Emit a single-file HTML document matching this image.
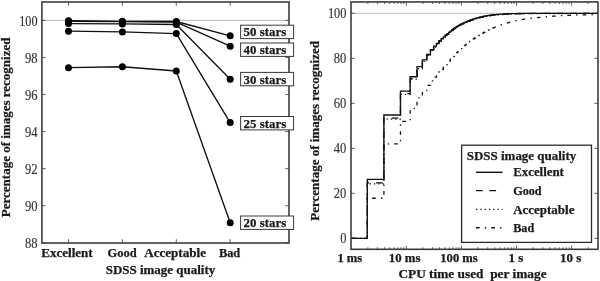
<!DOCTYPE html>
<html><head><meta charset="utf-8"><title>chart</title>
<style>
html,body{margin:0;padding:0;background:#fff;}
body{width:600px;height:281px;overflow:hidden;}
svg{display:block;will-change:transform;}
text{font-family:"Liberation Serif",serif;}
.b{font-weight:bold;font-size:12.9px;fill:#1a1a1a;stroke:#1a1a1a;stroke-width:0.25px;}
.tk{font-size:13.6px;fill:#333;stroke:#333;stroke-width:0.15px;}
</style></head>
<body>
<svg width="600" height="281" viewBox="0 0 600 281">
<rect x="0" y="0" width="600" height="281" fill="#fff"/>
<line x1="41.9" y1="20.40" x2="289.0" y2="20.40" stroke="#a2a2a2" stroke-width="0.75"/>
<line x1="41.9" y1="242.82" x2="45.699999999999996" y2="242.82" stroke="#3c3c3c" stroke-width="0.8"/>
<line x1="289.0" y1="242.82" x2="285.2" y2="242.82" stroke="#3c3c3c" stroke-width="0.8"/>
<text x="24.90" y="247.92" class="tk" textLength="12.6" lengthAdjust="spacingAndGlyphs">88</text>
<line x1="41.9" y1="205.75" x2="45.699999999999996" y2="205.75" stroke="#3c3c3c" stroke-width="0.8"/>
<line x1="289.0" y1="205.75" x2="285.2" y2="205.75" stroke="#3c3c3c" stroke-width="0.8"/>
<text x="24.90" y="210.85" class="tk" textLength="12.6" lengthAdjust="spacingAndGlyphs">90</text>
<line x1="41.9" y1="168.68" x2="45.699999999999996" y2="168.68" stroke="#3c3c3c" stroke-width="0.8"/>
<line x1="289.0" y1="168.68" x2="285.2" y2="168.68" stroke="#3c3c3c" stroke-width="0.8"/>
<text x="24.90" y="173.78" class="tk" textLength="12.6" lengthAdjust="spacingAndGlyphs">92</text>
<line x1="41.9" y1="131.61" x2="45.699999999999996" y2="131.61" stroke="#3c3c3c" stroke-width="0.8"/>
<line x1="289.0" y1="131.61" x2="285.2" y2="131.61" stroke="#3c3c3c" stroke-width="0.8"/>
<text x="24.90" y="136.71" class="tk" textLength="12.6" lengthAdjust="spacingAndGlyphs">94</text>
<line x1="41.9" y1="94.54" x2="45.699999999999996" y2="94.54" stroke="#3c3c3c" stroke-width="0.8"/>
<line x1="289.0" y1="94.54" x2="285.2" y2="94.54" stroke="#3c3c3c" stroke-width="0.8"/>
<text x="24.90" y="99.64" class="tk" textLength="12.6" lengthAdjust="spacingAndGlyphs">96</text>
<line x1="41.9" y1="57.47" x2="45.699999999999996" y2="57.47" stroke="#3c3c3c" stroke-width="0.8"/>
<line x1="289.0" y1="57.47" x2="285.2" y2="57.47" stroke="#3c3c3c" stroke-width="0.8"/>
<text x="24.90" y="62.57" class="tk" textLength="12.6" lengthAdjust="spacingAndGlyphs">98</text>
<line x1="41.9" y1="20.40" x2="45.699999999999996" y2="20.40" stroke="#3c3c3c" stroke-width="0.8"/>
<line x1="289.0" y1="20.40" x2="285.2" y2="20.40" stroke="#3c3c3c" stroke-width="0.8"/>
<text x="19.20" y="25.50" class="tk" textLength="18.3" lengthAdjust="spacingAndGlyphs">100</text>
<line x1="68.5" y1="243.0" x2="68.5" y2="239.2" stroke="#3c3c3c" stroke-width="0.8"/>
<line x1="68.5" y1="2.0" x2="68.5" y2="5.8" stroke="#3c3c3c" stroke-width="0.8"/>
<line x1="122.4" y1="243.0" x2="122.4" y2="239.2" stroke="#3c3c3c" stroke-width="0.8"/>
<line x1="122.4" y1="2.0" x2="122.4" y2="5.8" stroke="#3c3c3c" stroke-width="0.8"/>
<line x1="176.3" y1="243.0" x2="176.3" y2="239.2" stroke="#3c3c3c" stroke-width="0.8"/>
<line x1="176.3" y1="2.0" x2="176.3" y2="5.8" stroke="#3c3c3c" stroke-width="0.8"/>
<line x1="230.2" y1="243.0" x2="230.2" y2="239.2" stroke="#3c3c3c" stroke-width="0.8"/>
<line x1="230.2" y1="2.0" x2="230.2" y2="5.8" stroke="#3c3c3c" stroke-width="0.8"/>
<polyline points="68.50,20.68 122.40,21.33 176.30,21.51 230.20,35.78" fill="none" stroke="#111" stroke-width="1.35" stroke-linejoin="round"/>
<circle cx="68.50" cy="20.68" r="3.5" fill="#000"/>
<circle cx="122.40" cy="21.33" r="3.5" fill="#000"/>
<circle cx="176.30" cy="21.51" r="3.5" fill="#000"/>
<circle cx="230.20" cy="35.78" r="3.5" fill="#000"/>
<polyline points="68.50,21.33 122.40,21.70 176.30,22.07 230.20,46.16" fill="none" stroke="#111" stroke-width="1.35" stroke-linejoin="round"/>
<circle cx="68.50" cy="21.33" r="3.5" fill="#000"/>
<circle cx="122.40" cy="21.70" r="3.5" fill="#000"/>
<circle cx="176.30" cy="22.07" r="3.5" fill="#000"/>
<circle cx="230.20" cy="46.16" r="3.5" fill="#000"/>
<polyline points="68.50,23.55 122.40,23.92 176.30,24.48 230.20,79.34" fill="none" stroke="#111" stroke-width="1.35" stroke-linejoin="round"/>
<circle cx="68.50" cy="23.55" r="3.5" fill="#000"/>
<circle cx="122.40" cy="23.92" r="3.5" fill="#000"/>
<circle cx="176.30" cy="24.48" r="3.5" fill="#000"/>
<circle cx="230.20" cy="79.34" r="3.5" fill="#000"/>
<polyline points="68.50,31.15 122.40,31.89 176.30,33.56 230.20,122.53" fill="none" stroke="#111" stroke-width="1.35" stroke-linejoin="round"/>
<circle cx="68.50" cy="31.15" r="3.5" fill="#000"/>
<circle cx="122.40" cy="31.89" r="3.5" fill="#000"/>
<circle cx="176.30" cy="33.56" r="3.5" fill="#000"/>
<circle cx="230.20" cy="122.53" r="3.5" fill="#000"/>
<polyline points="68.50,67.66 122.40,66.74 176.30,71.00 230.20,222.80" fill="none" stroke="#111" stroke-width="1.35" stroke-linejoin="round"/>
<circle cx="68.50" cy="67.66" r="3.5" fill="#000"/>
<circle cx="122.40" cy="66.74" r="3.5" fill="#000"/>
<circle cx="176.30" cy="71.00" r="3.5" fill="#000"/>
<circle cx="230.20" cy="222.80" r="3.5" fill="#000"/>
<rect x="41.9" y="2.0" width="247.1" height="241.0" fill="none" stroke="#3c3c3c" stroke-width="1.6"/>
<rect x="240.6" y="25.20" width="53" height="13.4" fill="#fff" stroke="#3a3a3a" stroke-width="1"/>
<text x="243.6" y="36.30" class="b" textLength="42.6" lengthAdjust="spacingAndGlyphs">50 stars</text>
<rect x="240.6" y="43.00" width="53" height="13.4" fill="#fff" stroke="#3a3a3a" stroke-width="1"/>
<text x="243.6" y="54.10" class="b" textLength="42.6" lengthAdjust="spacingAndGlyphs">40 stars</text>
<rect x="240.6" y="72.40" width="53" height="13.4" fill="#fff" stroke="#3a3a3a" stroke-width="1"/>
<text x="243.6" y="83.50" class="b" textLength="42.6" lengthAdjust="spacingAndGlyphs">30 stars</text>
<rect x="240.6" y="116.50" width="53" height="13.4" fill="#fff" stroke="#3a3a3a" stroke-width="1"/>
<text x="243.6" y="127.60" class="b" textLength="42.6" lengthAdjust="spacingAndGlyphs">25 stars</text>
<rect x="240.6" y="216.00" width="53" height="13.4" fill="#fff" stroke="#3a3a3a" stroke-width="1"/>
<text x="243.6" y="227.10" class="b" textLength="42.6" lengthAdjust="spacingAndGlyphs">20 stars</text>
<text x="41.3" y="256.5" class="b" textLength="51.4" lengthAdjust="spacingAndGlyphs">Excellent</text>
<text x="107.5" y="256.5" class="b" textLength="29.1" lengthAdjust="spacingAndGlyphs">Good</text>
<text x="144.2" y="256.5" class="b" textLength="61.8" lengthAdjust="spacingAndGlyphs">Acceptable</text>
<text x="218.9" y="256.5" class="b" textLength="21.3" lengthAdjust="spacingAndGlyphs">Bad</text>
<text x="105.7" y="273.5" class="b" textLength="109.6" lengthAdjust="spacingAndGlyphs">SDSS image quality</text>
<text transform="translate(10.4,217.2) rotate(-90)" class="b" textLength="179.6" lengthAdjust="spacingAndGlyphs">Percentage of images recognized</text>
<line x1="351.0" y1="13.30" x2="598.0" y2="13.30" stroke="#a2a2a2" stroke-width="0.75"/>
<line x1="351.0" y1="238.30" x2="354.8" y2="238.30" stroke="#3c3c3c" stroke-width="0.8"/>
<line x1="598.0" y1="238.30" x2="594.2" y2="238.30" stroke="#3c3c3c" stroke-width="0.8"/>
<text x="340.20" y="243.40" class="tk" textLength="6.2" lengthAdjust="spacingAndGlyphs">0</text>
<line x1="351.0" y1="193.30" x2="354.8" y2="193.30" stroke="#3c3c3c" stroke-width="0.8"/>
<line x1="598.0" y1="193.30" x2="594.2" y2="193.30" stroke="#3c3c3c" stroke-width="0.8"/>
<text x="333.80" y="198.40" class="tk" textLength="12.6" lengthAdjust="spacingAndGlyphs">20</text>
<line x1="351.0" y1="148.30" x2="354.8" y2="148.30" stroke="#3c3c3c" stroke-width="0.8"/>
<line x1="598.0" y1="148.30" x2="594.2" y2="148.30" stroke="#3c3c3c" stroke-width="0.8"/>
<text x="333.80" y="153.40" class="tk" textLength="12.6" lengthAdjust="spacingAndGlyphs">40</text>
<line x1="351.0" y1="103.30" x2="354.8" y2="103.30" stroke="#3c3c3c" stroke-width="0.8"/>
<line x1="598.0" y1="103.30" x2="594.2" y2="103.30" stroke="#3c3c3c" stroke-width="0.8"/>
<text x="333.80" y="108.40" class="tk" textLength="12.6" lengthAdjust="spacingAndGlyphs">60</text>
<line x1="351.0" y1="58.30" x2="354.8" y2="58.30" stroke="#3c3c3c" stroke-width="0.8"/>
<line x1="598.0" y1="58.30" x2="594.2" y2="58.30" stroke="#3c3c3c" stroke-width="0.8"/>
<text x="333.80" y="63.40" class="tk" textLength="12.6" lengthAdjust="spacingAndGlyphs">80</text>
<line x1="351.0" y1="13.30" x2="354.8" y2="13.30" stroke="#3c3c3c" stroke-width="0.8"/>
<line x1="598.0" y1="13.30" x2="594.2" y2="13.30" stroke="#3c3c3c" stroke-width="0.8"/>
<text x="327.90" y="18.40" class="tk" textLength="18.5" lengthAdjust="spacingAndGlyphs">100</text>
<line x1="367.88" y1="249.3" x2="367.88" y2="247.20000000000002" stroke="#3c3c3c" stroke-width="0.8"/>
<line x1="367.88" y1="1.95" x2="367.88" y2="4.05" stroke="#3c3c3c" stroke-width="0.8"/>
<line x1="377.58" y1="249.3" x2="377.58" y2="247.20000000000002" stroke="#3c3c3c" stroke-width="0.8"/>
<line x1="377.58" y1="1.95" x2="377.58" y2="4.05" stroke="#3c3c3c" stroke-width="0.8"/>
<line x1="384.46" y1="249.3" x2="384.46" y2="247.20000000000002" stroke="#3c3c3c" stroke-width="0.8"/>
<line x1="384.46" y1="1.95" x2="384.46" y2="4.05" stroke="#3c3c3c" stroke-width="0.8"/>
<line x1="389.79" y1="249.3" x2="389.79" y2="247.20000000000002" stroke="#3c3c3c" stroke-width="0.8"/>
<line x1="389.79" y1="1.95" x2="389.79" y2="4.05" stroke="#3c3c3c" stroke-width="0.8"/>
<line x1="394.15" y1="249.3" x2="394.15" y2="247.20000000000002" stroke="#3c3c3c" stroke-width="0.8"/>
<line x1="394.15" y1="1.95" x2="394.15" y2="4.05" stroke="#3c3c3c" stroke-width="0.8"/>
<line x1="397.84" y1="249.3" x2="397.84" y2="247.20000000000002" stroke="#3c3c3c" stroke-width="0.8"/>
<line x1="397.84" y1="1.95" x2="397.84" y2="4.05" stroke="#3c3c3c" stroke-width="0.8"/>
<line x1="401.03" y1="249.3" x2="401.03" y2="247.20000000000002" stroke="#3c3c3c" stroke-width="0.8"/>
<line x1="401.03" y1="1.95" x2="401.03" y2="4.05" stroke="#3c3c3c" stroke-width="0.8"/>
<line x1="403.85" y1="249.3" x2="403.85" y2="247.20000000000002" stroke="#3c3c3c" stroke-width="0.8"/>
<line x1="403.85" y1="1.95" x2="403.85" y2="4.05" stroke="#3c3c3c" stroke-width="0.8"/>
<line x1="406.37" y1="249.3" x2="406.37" y2="245.5" stroke="#3c3c3c" stroke-width="0.8"/>
<line x1="406.37" y1="1.95" x2="406.37" y2="5.75" stroke="#3c3c3c" stroke-width="0.8"/>
<line x1="422.95" y1="249.3" x2="422.95" y2="247.20000000000002" stroke="#3c3c3c" stroke-width="0.8"/>
<line x1="422.95" y1="1.95" x2="422.95" y2="4.05" stroke="#3c3c3c" stroke-width="0.8"/>
<line x1="432.65" y1="249.3" x2="432.65" y2="247.20000000000002" stroke="#3c3c3c" stroke-width="0.8"/>
<line x1="432.65" y1="1.95" x2="432.65" y2="4.05" stroke="#3c3c3c" stroke-width="0.8"/>
<line x1="439.53" y1="249.3" x2="439.53" y2="247.20000000000002" stroke="#3c3c3c" stroke-width="0.8"/>
<line x1="439.53" y1="1.95" x2="439.53" y2="4.05" stroke="#3c3c3c" stroke-width="0.8"/>
<line x1="444.86" y1="249.3" x2="444.86" y2="247.20000000000002" stroke="#3c3c3c" stroke-width="0.8"/>
<line x1="444.86" y1="1.95" x2="444.86" y2="4.05" stroke="#3c3c3c" stroke-width="0.8"/>
<line x1="449.22" y1="249.3" x2="449.22" y2="247.20000000000002" stroke="#3c3c3c" stroke-width="0.8"/>
<line x1="449.22" y1="1.95" x2="449.22" y2="4.05" stroke="#3c3c3c" stroke-width="0.8"/>
<line x1="452.91" y1="249.3" x2="452.91" y2="247.20000000000002" stroke="#3c3c3c" stroke-width="0.8"/>
<line x1="452.91" y1="1.95" x2="452.91" y2="4.05" stroke="#3c3c3c" stroke-width="0.8"/>
<line x1="456.10" y1="249.3" x2="456.10" y2="247.20000000000002" stroke="#3c3c3c" stroke-width="0.8"/>
<line x1="456.10" y1="1.95" x2="456.10" y2="4.05" stroke="#3c3c3c" stroke-width="0.8"/>
<line x1="458.92" y1="249.3" x2="458.92" y2="247.20000000000002" stroke="#3c3c3c" stroke-width="0.8"/>
<line x1="458.92" y1="1.95" x2="458.92" y2="4.05" stroke="#3c3c3c" stroke-width="0.8"/>
<line x1="461.44" y1="249.3" x2="461.44" y2="245.5" stroke="#3c3c3c" stroke-width="0.8"/>
<line x1="461.44" y1="1.95" x2="461.44" y2="5.75" stroke="#3c3c3c" stroke-width="0.8"/>
<line x1="478.02" y1="249.3" x2="478.02" y2="247.20000000000002" stroke="#3c3c3c" stroke-width="0.8"/>
<line x1="478.02" y1="1.95" x2="478.02" y2="4.05" stroke="#3c3c3c" stroke-width="0.8"/>
<line x1="487.72" y1="249.3" x2="487.72" y2="247.20000000000002" stroke="#3c3c3c" stroke-width="0.8"/>
<line x1="487.72" y1="1.95" x2="487.72" y2="4.05" stroke="#3c3c3c" stroke-width="0.8"/>
<line x1="494.60" y1="249.3" x2="494.60" y2="247.20000000000002" stroke="#3c3c3c" stroke-width="0.8"/>
<line x1="494.60" y1="1.95" x2="494.60" y2="4.05" stroke="#3c3c3c" stroke-width="0.8"/>
<line x1="499.93" y1="249.3" x2="499.93" y2="247.20000000000002" stroke="#3c3c3c" stroke-width="0.8"/>
<line x1="499.93" y1="1.95" x2="499.93" y2="4.05" stroke="#3c3c3c" stroke-width="0.8"/>
<line x1="504.29" y1="249.3" x2="504.29" y2="247.20000000000002" stroke="#3c3c3c" stroke-width="0.8"/>
<line x1="504.29" y1="1.95" x2="504.29" y2="4.05" stroke="#3c3c3c" stroke-width="0.8"/>
<line x1="507.98" y1="249.3" x2="507.98" y2="247.20000000000002" stroke="#3c3c3c" stroke-width="0.8"/>
<line x1="507.98" y1="1.95" x2="507.98" y2="4.05" stroke="#3c3c3c" stroke-width="0.8"/>
<line x1="511.17" y1="249.3" x2="511.17" y2="247.20000000000002" stroke="#3c3c3c" stroke-width="0.8"/>
<line x1="511.17" y1="1.95" x2="511.17" y2="4.05" stroke="#3c3c3c" stroke-width="0.8"/>
<line x1="513.99" y1="249.3" x2="513.99" y2="247.20000000000002" stroke="#3c3c3c" stroke-width="0.8"/>
<line x1="513.99" y1="1.95" x2="513.99" y2="4.05" stroke="#3c3c3c" stroke-width="0.8"/>
<line x1="516.51" y1="249.3" x2="516.51" y2="245.5" stroke="#3c3c3c" stroke-width="0.8"/>
<line x1="516.51" y1="1.95" x2="516.51" y2="5.75" stroke="#3c3c3c" stroke-width="0.8"/>
<line x1="533.09" y1="249.3" x2="533.09" y2="247.20000000000002" stroke="#3c3c3c" stroke-width="0.8"/>
<line x1="533.09" y1="1.95" x2="533.09" y2="4.05" stroke="#3c3c3c" stroke-width="0.8"/>
<line x1="542.79" y1="249.3" x2="542.79" y2="247.20000000000002" stroke="#3c3c3c" stroke-width="0.8"/>
<line x1="542.79" y1="1.95" x2="542.79" y2="4.05" stroke="#3c3c3c" stroke-width="0.8"/>
<line x1="549.67" y1="249.3" x2="549.67" y2="247.20000000000002" stroke="#3c3c3c" stroke-width="0.8"/>
<line x1="549.67" y1="1.95" x2="549.67" y2="4.05" stroke="#3c3c3c" stroke-width="0.8"/>
<line x1="555.00" y1="249.3" x2="555.00" y2="247.20000000000002" stroke="#3c3c3c" stroke-width="0.8"/>
<line x1="555.00" y1="1.95" x2="555.00" y2="4.05" stroke="#3c3c3c" stroke-width="0.8"/>
<line x1="559.36" y1="249.3" x2="559.36" y2="247.20000000000002" stroke="#3c3c3c" stroke-width="0.8"/>
<line x1="559.36" y1="1.95" x2="559.36" y2="4.05" stroke="#3c3c3c" stroke-width="0.8"/>
<line x1="563.05" y1="249.3" x2="563.05" y2="247.20000000000002" stroke="#3c3c3c" stroke-width="0.8"/>
<line x1="563.05" y1="1.95" x2="563.05" y2="4.05" stroke="#3c3c3c" stroke-width="0.8"/>
<line x1="566.24" y1="249.3" x2="566.24" y2="247.20000000000002" stroke="#3c3c3c" stroke-width="0.8"/>
<line x1="566.24" y1="1.95" x2="566.24" y2="4.05" stroke="#3c3c3c" stroke-width="0.8"/>
<line x1="569.06" y1="249.3" x2="569.06" y2="247.20000000000002" stroke="#3c3c3c" stroke-width="0.8"/>
<line x1="569.06" y1="1.95" x2="569.06" y2="4.05" stroke="#3c3c3c" stroke-width="0.8"/>
<line x1="571.58" y1="249.3" x2="571.58" y2="245.5" stroke="#3c3c3c" stroke-width="0.8"/>
<line x1="571.58" y1="1.95" x2="571.58" y2="5.75" stroke="#3c3c3c" stroke-width="0.8"/>
<line x1="588.16" y1="249.3" x2="588.16" y2="247.20000000000002" stroke="#3c3c3c" stroke-width="0.8"/>
<line x1="588.16" y1="1.95" x2="588.16" y2="4.05" stroke="#3c3c3c" stroke-width="0.8"/>
<path d="M351.00,238.30H367.31V198.24H383.89V143.80H400.47V121.30H410.16V108.47H417.04V97.90H422.38V90.70H426.74V85.30H430.43V80.80H433.62V77.20H436.44V74.33H438.96V71.76H441.24V69.39H443.32V67.07H445.23V64.93H447.01V62.95H448.66V61.12H450.20V59.40H451.65V57.80H453.02V56.28H454.31V54.86H455.54V53.71H456.70V52.61H457.82V51.57H458.88V50.57H459.90V49.62H460.87V48.70H461.81V47.82H462.71V47.06H463.58V46.33H464.42V45.64H465.23V44.96H466.02V44.31H466.78V43.68H467.51V43.07H468.23V42.47H468.92V41.89H469.59V41.35H470.25V40.93H470.89V40.52H471.51V40.12H472.11V39.73H472.70V39.35H473.28V38.98H473.84V38.62H474.39V38.26H474.93V37.92H475.46V37.58H475.97V37.25H476.47V36.92H476.97V36.61H477.45V36.30H477.92V35.99H478.39V35.69H478.84V35.40H479.29V35.11H479.73V34.83H480.16V34.57H480.58V34.34H481.00V34.12H481.41V33.90H481.81V33.68H482.21V33.47H482.60V33.26H482.98V33.05H483.35V32.85H483.73V32.65H484.09V32.45H484.45V32.26H484.80V32.07H485.15V31.88H485.50V31.70H485.84V31.51H486.17V31.33H486.50V31.16H486.83V30.98H487.15V30.81H487.46V30.64H487.78V30.47H488.09V30.30H488.39V30.14H488.69V29.98H488.99V29.82H489.28V29.66H489.57V29.50H489.86V29.35H490.14V29.21H490.42V29.10H490.70V28.99H490.97V28.88H491.24V28.77H491.51V28.66H491.77V28.55H492.03V28.45H492.29V28.34H492.55V28.24H492.80V28.14H493.05V28.03H493.30V27.93H493.55V27.83H493.79V27.74L494.29,27.53L495.04,27.23L495.79,26.93L496.54,26.62L497.29,26.32L498.04,26.01L498.79,25.71L499.54,25.40L500.29,25.13L501.04,24.91L501.79,24.68L502.54,24.45L503.29,24.23L504.04,24.00L504.79,23.78L505.54,23.55L506.29,23.32L507.04,23.10L507.79,22.87L508.54,22.64L509.29,22.42L510.04,22.19L510.79,21.97L511.54,21.77L512.29,21.59L513.04,21.42L513.79,21.25L514.54,21.08L515.29,20.91L516.04,20.73L516.79,20.56L517.54,20.39L518.29,20.22L519.04,20.05L519.79,19.87L520.54,19.74L521.29,19.63L522.04,19.52L522.79,19.40L523.54,19.29L524.29,19.18L525.04,19.06L525.79,18.95L526.54,18.84L527.29,18.72L528.04,18.61L528.79,18.49L529.54,18.41L530.29,18.34L531.04,18.26L531.79,18.18L532.54,18.11L533.29,18.03L534.04,17.96L534.79,17.88L535.54,17.80L536.29,17.73L537.04,17.65L537.79,17.57L538.54,17.50L539.29,17.42L540.04,17.35L540.79,17.28L541.54,17.21L542.29,17.14L543.04,17.07L543.79,17.00L544.54,16.93L545.29,16.86L546.04,16.79L546.79,16.72L547.54,16.65L548.29,16.58L549.04,16.51L549.79,16.44L550.54,16.38L551.29,16.33L552.04,16.27L552.79,16.21L553.54,16.15L554.29,16.10L555.04,16.04L555.79,15.98L556.54,15.93L557.29,15.87L558.04,15.81L558.79,15.75L559.54,15.70L560.29,15.65L561.04,15.62L561.79,15.59L562.54,15.56L563.29,15.53L564.04,15.50L564.79,15.47L565.54,15.44L566.29,15.41L567.04,15.38L567.79,15.35L568.54,15.32L569.29,15.29L570.04,15.26L570.79,15.23L571.54,15.20L572.29,15.17L573.04,15.14L573.79,15.11L574.54,15.08L575.29,15.05L576.04,15.02L576.79,15.00L577.54,14.97L578.29,14.94L579.04,14.91L579.79,14.88L580.54,14.87L581.29,14.86L582.04,14.85L582.79,14.84L583.54,14.83L584.29,14.82L585.04,14.81L585.79,14.80L586.54,14.79L587.29,14.78L588.04,14.77L588.79,14.76L589.54,14.75L590.29,14.74L591.04,14.73L591.79,14.72L592.54,14.71L593.29,14.70L594.04,14.69L594.79,14.68L595.54,14.67L596.29,14.66L597.04,14.65L597.79,14.64L598.00,14.64" fill="none" stroke="#111" stroke-width="1.3" stroke-dasharray="3.6 5.2 1.4 5.1"/>
<path d="M351.00,238.30H367.31V183.84H383.89V119.05H400.47V94.30H410.16V79.22H417.04V68.65H422.38V61.45H426.74V55.60H430.43V50.65H433.62V47.05H436.44V44.11H438.96V41.48H441.24V39.39H443.32V37.53H445.23V35.81H447.01V34.29H448.66V32.94H450.20V31.68H451.65V30.49H453.02V29.38H454.31V28.52H455.54V27.79H456.70V27.09H457.82V26.43H458.88V25.79H459.90V25.19H460.87V24.65H461.81V24.23H462.71V23.83H463.58V23.45H464.42V23.08H465.23V22.72H466.02V22.37H466.78V22.04H467.51V21.71H468.23V21.43H468.92V21.17H469.59V20.91H470.25V20.66H470.89V20.42H471.51V20.18H472.11V19.95H472.70V19.73H473.28V19.51H473.84V19.30H474.39V19.09H474.93V18.90H475.46V18.77H475.97V18.65H476.47V18.52H476.97V18.40H477.45V18.29H477.92V18.17H478.39V18.06H478.84V17.95H479.29V17.84H479.73V17.73H480.16V17.63H480.58V17.53H481.00V17.42H481.41V17.33H481.81V17.23H482.21V17.13H482.60V17.04H482.98V16.94H483.35V16.85H483.73V16.76H484.09V16.67H484.45V16.59H484.80V16.50H485.15V16.43H485.50V16.38H485.84V16.33H486.17V16.28H486.50V16.23H486.83V16.18H487.15V16.13H487.46V16.09H487.78V16.04H488.09V15.99H488.39V15.95H488.69V15.91H488.99V15.86H489.28V15.82H489.57V15.77H489.86V15.73H490.14V15.69H490.42V15.65H490.70V15.61H490.97V15.57H491.24V15.53H491.51V15.49H491.77V15.45H492.03V15.41H492.29V15.37H492.55V15.33H492.80V15.30H493.05V15.26H493.30V15.22H493.55V15.20H493.79V15.18L494.29,15.15L495.04,15.09L495.79,15.04L496.54,14.98L497.29,14.93L498.04,14.87L498.79,14.82L499.54,14.76L500.29,14.71L501.04,14.65L501.79,14.60L502.54,14.55L503.29,14.50L504.04,14.46L504.79,14.42L505.54,14.38L506.29,14.35L507.04,14.31L507.79,14.27L508.54,14.23L509.29,14.19L510.04,14.15L510.79,14.11L511.54,14.08L512.29,14.06L513.04,14.04L513.79,14.02L514.54,14.00L515.29,13.98L516.04,13.96L516.79,13.94L517.54,13.93L518.29,13.91L519.04,13.89L519.79,13.87L520.54,13.85L521.29,13.83L522.04,13.81L522.79,13.79L523.54,13.77L524.29,13.75L525.04,13.73L525.79,13.72L526.54,13.70L527.29,13.69L528.04,13.68L528.79,13.67L529.54,13.66L530.29,13.65L531.04,13.64L531.79,13.63L532.54,13.62L533.29,13.61L534.04,13.60L534.79,13.59L535.54,13.58L536.29,13.57L537.04,13.56L537.79,13.55L538.54,13.54L539.29,13.53L540.04,13.52L540.79,13.52L541.54,13.52L542.29,13.52L543.04,13.52L543.79,13.52L544.54,13.52L545.29,13.52L546.04,13.51L546.79,13.51L547.54,13.51L548.29,13.51L549.04,13.51L549.79,13.51L550.54,13.51L551.29,13.51L552.04,13.50L552.79,13.50L553.54,13.50L554.29,13.50L555.04,13.50L555.79,13.50L556.54,13.50L557.29,13.49L558.04,13.49L558.79,13.49L559.54,13.49L560.29,13.49L561.04,13.49L561.79,13.49L562.54,13.49L563.29,13.48L564.04,13.48L564.79,13.48L565.54,13.48L566.29,13.48L567.04,13.48L567.79,13.48L568.54,13.48L569.29,13.47L570.04,13.47L570.79,13.47L571.54,13.47L572.29,13.47L573.04,13.47L573.79,13.47L574.54,13.46L575.29,13.46L576.04,13.46L576.79,13.46L577.54,13.46L578.29,13.46L579.04,13.46L579.79,13.46L580.54,13.45L581.29,13.45L582.04,13.45L582.79,13.45L583.54,13.45L584.29,13.45L585.04,13.45L585.79,13.45L586.54,13.44L587.29,13.44L588.04,13.44L588.79,13.44L589.54,13.44L590.29,13.44L591.04,13.44L591.79,13.44L592.54,13.43L593.29,13.43L594.04,13.43L594.79,13.43L595.54,13.43L596.29,13.43L597.04,13.43L597.79,13.42L598.00,13.42" fill="none" stroke="#111" stroke-width="1.3" stroke-dasharray="1.3 3.0"/>
<path d="M351.00,238.30H367.31V182.94H383.89V118.15H400.47V93.62H410.16V78.55H417.04V67.97H422.38V60.77H426.74V55.15H430.43V50.20H433.62V46.60H436.44V43.66H438.96V41.03H441.24V38.94H443.32V37.08H445.23V35.36H447.01V33.85H448.66V32.53H450.20V31.29H451.65V30.13H453.02V29.03H454.31V28.18H455.54V27.45H456.70V26.75H457.82V26.09H458.88V25.46H459.90V24.85H460.87V24.32H461.81V23.92H462.71V23.53H463.58V23.16H464.42V22.80H465.23V22.46H466.02V22.12H466.78V21.80H467.51V21.49H468.23V21.20H468.92V20.94H469.59V20.69H470.25V20.44H470.89V20.19H471.51V19.96H472.11V19.73H472.70V19.50H473.28V19.29H473.84V19.07H474.39V18.86H474.93V18.67H475.46V18.55H475.97V18.42H476.47V18.30H476.97V18.18H477.45V18.06H477.92V17.95H478.39V17.83H478.84V17.72H479.29V17.61H479.73V17.51H480.16V17.40H480.58V17.30H481.00V17.20H481.41V17.10H481.81V17.00H482.21V16.91H482.60V16.81H482.98V16.72H483.35V16.63H483.73V16.54H484.09V16.45H484.45V16.36H484.80V16.28H485.15V16.20H485.50V16.15H485.84V16.10H486.17V16.05H486.50V16.00H486.83V15.96H487.15V15.91H487.46V15.86H487.78V15.82H488.09V15.77H488.39V15.72H488.69V15.68H488.99V15.64H489.28V15.59H489.57V15.55H489.86V15.51H490.14V15.47H490.42V15.42H490.70V15.38H490.97V15.34H491.24V15.30H491.51V15.26H491.77V15.22H492.03V15.18H492.29V15.15H492.55V15.11H492.80V15.07H493.05V15.03H493.30V15.00H493.55V14.97H493.79V14.96L494.29,14.92L495.04,14.87L495.79,14.81L496.54,14.76L497.29,14.70L498.04,14.65L498.79,14.59L499.54,14.54L500.29,14.48L501.04,14.43L501.79,14.37L502.54,14.32L503.29,14.28L504.04,14.24L504.79,14.20L505.54,14.16L506.29,14.12L507.04,14.08L507.79,14.04L508.54,14.00L509.29,13.96L510.04,13.92L510.79,13.88L511.54,13.85L512.29,13.84L513.04,13.82L513.79,13.80L514.54,13.79L515.29,13.77L516.04,13.75L516.79,13.74L517.54,13.72L518.29,13.70L519.04,13.69L519.79,13.67L520.54,13.65L521.29,13.64L522.04,13.62L522.79,13.60L523.54,13.58L524.29,13.57L525.04,13.55L525.79,13.53L526.54,13.52L527.29,13.52L528.04,13.51L528.79,13.50L529.54,13.50L530.29,13.49L531.04,13.49L531.79,13.48L532.54,13.47L533.29,13.47L534.04,13.46L534.79,13.46L535.54,13.45L536.29,13.44L537.04,13.44L537.79,13.43L538.54,13.42L539.29,13.42L540.04,13.41L540.79,13.41L541.54,13.41L542.29,13.41L543.04,13.41L543.79,13.41L544.54,13.41L545.29,13.41L546.04,13.41L546.79,13.41L547.54,13.41L548.29,13.41L549.04,13.41L549.79,13.41L550.54,13.41L551.29,13.40L552.04,13.40L552.79,13.40L553.54,13.40L554.29,13.40L555.04,13.40L555.79,13.40L556.54,13.40L557.29,13.40L558.04,13.40L558.79,13.40L559.54,13.40L560.29,13.40L561.04,13.40L561.79,13.40L562.54,13.40L563.29,13.40L564.04,13.40L564.79,13.40L565.54,13.39L566.29,13.39L567.04,13.39L567.79,13.39L568.54,13.39L569.29,13.39L570.04,13.39L570.79,13.39L571.54,13.39L572.29,13.39L573.04,13.39L573.79,13.39L574.54,13.39L575.29,13.39L576.04,13.39L576.79,13.39L577.54,13.39L578.29,13.39L579.04,13.39L579.79,13.38L580.54,13.38L581.29,13.38L582.04,13.38L582.79,13.38L583.54,13.38L584.29,13.38L585.04,13.38L585.79,13.38L586.54,13.38L587.29,13.38L588.04,13.38L588.79,13.38L589.54,13.38L590.29,13.38L591.04,13.38L591.79,13.38L592.54,13.38L593.29,13.38L594.04,13.37L594.79,13.37L595.54,13.37L596.29,13.37L597.04,13.37L597.79,13.37L598.00,13.37" fill="none" stroke="#111" stroke-width="1.3" stroke-dasharray="6.7 6.7"/>
<path d="M351.00,238.30H367.31V179.34H383.89V115.00H400.47V91.15H410.16V76.75H417.04V66.62H422.38V59.87H426.74V54.47H430.43V49.75H433.62V46.15H436.44V43.32H438.96V40.79H441.24V38.72H443.32V36.85H445.23V35.14H447.01V33.62H448.66V32.30H450.20V31.06H451.65V29.90H453.02V28.81H454.31V27.95H455.54V27.22H456.70V26.53H457.82V25.86H458.88V25.23H459.90V24.62H460.87V24.09H461.81V23.69H462.71V23.31H463.58V22.93H464.42V22.58H465.23V22.23H466.02V21.90H466.78V21.57H467.51V21.26H468.23V20.98H468.92V20.72H469.59V20.46H470.25V20.21H470.89V19.97H471.51V19.73H472.11V19.50H472.70V19.28H473.28V19.06H473.84V18.85H474.39V18.64H474.93V18.45H475.46V18.32H475.97V18.20H476.47V18.07H476.97V17.95H477.45V17.84H477.92V17.72H478.39V17.61H478.84V17.50H479.29V17.39H479.73V17.28H480.16V17.18H480.58V17.08H481.00V16.97H481.41V16.88H481.81V16.78H482.21V16.68H482.60V16.59H482.98V16.49H483.35V16.40H483.73V16.31H484.09V16.22H484.45V16.14H484.80V16.05H485.15V15.98H485.50V15.93H485.84V15.88H486.17V15.83H486.50V15.78H486.83V15.73H487.15V15.68H487.46V15.64H487.78V15.59H488.09V15.54H488.39V15.50H488.69V15.46H488.99V15.41H489.28V15.37H489.57V15.32H489.86V15.28H490.14V15.24H490.42V15.20H490.70V15.16H490.97V15.12H491.24V15.08H491.51V15.04H491.77V15.00H492.03V14.96H492.29V14.92H492.55V14.88H492.80V14.85H493.05V14.81H493.30V14.77H493.55V14.75H493.79V14.73L494.29,14.70L495.04,14.64L495.79,14.59L496.54,14.53L497.29,14.48L498.04,14.42L498.79,14.37L499.54,14.31L500.29,14.26L501.04,14.20L501.79,14.15L502.54,14.10L503.29,14.05L504.04,14.01L504.79,13.97L505.54,13.93L506.29,13.90L507.04,13.86L507.79,13.82L508.54,13.78L509.29,13.74L510.04,13.70L510.79,13.66L511.54,13.63L512.29,13.62L513.04,13.60L513.79,13.59L514.54,13.58L515.29,13.56L516.04,13.55L516.79,13.54L517.54,13.52L518.29,13.51L519.04,13.50L519.79,13.48L520.54,13.47L521.29,13.46L522.04,13.44L522.79,13.43L523.54,13.42L524.29,13.40L525.04,13.39L525.79,13.38L526.54,13.37L527.29,13.36L528.04,13.36L528.79,13.35L529.54,13.35L530.29,13.35L531.04,13.34L531.79,13.34L532.54,13.34L533.29,13.33L534.04,13.33L534.79,13.33L535.54,13.32L536.29,13.32L537.04,13.31L537.79,13.31L538.54,13.31L539.29,13.30L540.04,13.30L540.79,13.30L541.54,13.30L542.29,13.30L543.04,13.30L543.79,13.30L544.54,13.30L545.29,13.30L546.04,13.30L546.79,13.30L547.54,13.30L548.29,13.30L549.04,13.30L549.79,13.30L550.54,13.30L551.29,13.30L552.04,13.30L552.79,13.30L553.54,13.30L554.29,13.30L555.04,13.30L555.79,13.30L556.54,13.30L557.29,13.30L558.04,13.30L558.79,13.30L559.54,13.30L560.29,13.30L561.04,13.30L561.79,13.30L562.54,13.30L563.29,13.30L564.04,13.30L564.79,13.30L565.54,13.30L566.29,13.30L567.04,13.30L567.79,13.30L568.54,13.30L569.29,13.30L570.04,13.30L570.79,13.30L571.54,13.30L572.29,13.30L573.04,13.30L573.79,13.30L574.54,13.30L575.29,13.30L576.04,13.30L576.79,13.30L577.54,13.30L578.29,13.30L579.04,13.30L579.79,13.30L580.54,13.30L581.29,13.30L582.04,13.30L582.79,13.30L583.54,13.30L584.29,13.30L585.04,13.30L585.79,13.30L586.54,13.30L587.29,13.30L588.04,13.30L588.79,13.30L589.54,13.30L590.29,13.30L591.04,13.30L591.79,13.30L592.54,13.30L593.29,13.30L594.04,13.30L594.79,13.30L595.54,13.30L596.29,13.30L597.04,13.30L597.79,13.30L598.00,13.30" fill="none" stroke="#111" stroke-width="1.35"/>
<rect x="351.0" y="1.95" width="247.0" height="247.35000000000002" fill="none" stroke="#3c3c3c" stroke-width="1.6"/>
<rect x="461.6" y="145.2" width="129.9" height="97.2" fill="#fff" stroke="#2b2b2b" stroke-width="1.3"/>
<text x="466.8" y="159.7" class="b" textLength="109.4" lengthAdjust="spacingAndGlyphs">SDSS image quality</text>
<line x1="476" y1="172.3" x2="502.6" y2="172.3" stroke="#111" stroke-width="1.4"/>
<text x="513.2" y="176.4" class="b" textLength="50.7" lengthAdjust="spacingAndGlyphs">Excellent</text>
<line x1="476" y1="190.6" x2="502.6" y2="190.6" stroke="#111" stroke-width="1.4" stroke-dasharray="6.7 6.7"/>
<text x="513.2" y="194.8" class="b" textLength="28.4" lengthAdjust="spacingAndGlyphs">Good</text>
<line x1="476" y1="209.4" x2="502.6" y2="209.4" stroke="#111" stroke-width="1.4" stroke-dasharray="1.3 3.0"/>
<text x="513.2" y="213.5" class="b" textLength="61.2" lengthAdjust="spacingAndGlyphs">Acceptable</text>
<line x1="476" y1="227.8" x2="502.6" y2="227.8" stroke="#111" stroke-width="1.4" stroke-dasharray="3.6 5.2 1.4 5.1"/>
<text x="513.2" y="231.5" class="b" textLength="21.0" lengthAdjust="spacingAndGlyphs">Bad</text>
<text x="337.4" y="262.3" class="b" textLength="24.9" lengthAdjust="spacingAndGlyphs">1 ms</text>
<text x="388.8" y="262.3" class="b" textLength="31.7" lengthAdjust="spacingAndGlyphs">10 ms</text>
<text x="440.3" y="262.3" class="b" textLength="37.5" lengthAdjust="spacingAndGlyphs">100 ms</text>
<text x="508.4" y="262.3" class="b" textLength="14.9" lengthAdjust="spacingAndGlyphs">1 s</text>
<text x="560.0" y="262.3" class="b" textLength="21.2" lengthAdjust="spacingAndGlyphs">10 s</text>
<text x="398.4" y="277.7" class="b" xml:space="preserve" style="white-space:pre" textLength="148.2" lengthAdjust="spacingAndGlyphs">CPU time used  per image</text>
<text transform="translate(319.4,220.7) rotate(-90)" class="b" textLength="179.6" lengthAdjust="spacingAndGlyphs">Percentage of images recognized</text>
</svg>
</body></html>
